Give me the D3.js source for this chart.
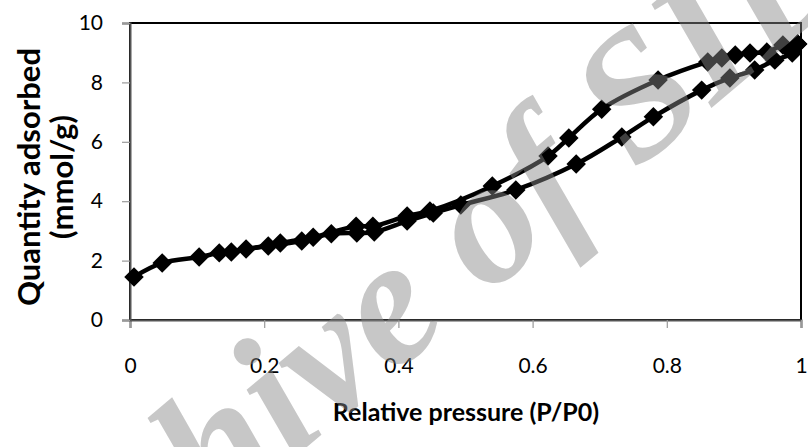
<!DOCTYPE html>
<html>
<head>
<meta charset="utf-8">
<script src="https://cdn.jsdelivr.net/npm/d3@7"></script>
<style>
  body { margin: 0; background: #fff; }
  svg { display: block; font-family: Lato, "Open Sans", sans-serif; }
</style>
</head>
<body>
<svg id="chart" width="808" height="447"></svg>
<script>
// adsorption branch (lower at high P/P0)
const adsP = [0.006, 0.048, 0.103, 0.133, 0.173, 0.206, 0.256, 0.300, 0.338, 0.364, 0.413, 0.452, 0.493, 0.575, 0.665, 0.733, 0.780, 0.852, 0.894, 0.931, 0.961, 0.987, 0.995];
const adsQ = [1.45, 1.92, 2.12, 2.26, 2.39, 2.49, 2.66, 2.90, 2.93, 2.96, 3.33, 3.60, 3.87, 4.38, 5.25, 6.16, 6.84, 7.74, 8.15, 8.42, 8.75, 8.99, 9.29];

// desorption branch (upper)
const desP = [0.995, 0.973, 0.949, 0.924, 0.902, 0.882, 0.861, 0.787, 0.703, 0.654, 0.623, 0.540, 0.447, 0.413, 0.362, 0.337, 0.273, 0.224, 0.151];
const desQ = [9.29, 9.26, 9.02, 8.99, 8.92, 8.82, 8.69, 8.08, 7.10, 6.13, 5.52, 4.51, 3.67, 3.50, 3.16, 3.16, 2.79, 2.59, 2.29];

const xTicks = [0, 0.2, 0.4, 0.6, 0.8, 1];
const yTicks = [0, 2, 4, 6, 8, 10];

const width = 808;
const height = 447;
const margin = {top: 23, right: 7, bottom: 127, left: 130};

const svg = d3.select("#chart");

const x = d3.scaleLinear()
  .domain([0, 1])
  .range([margin.left, width - margin.right]);

const y = d3.scaleLinear()
  .domain([0, 10])
  .range([height - margin.bottom, margin.top]);

// plot area border
svg.append("rect")
  .attr("x", x(0))
  .attr("y", y(10))
  .attr("width", x(1) - x(0))
  .attr("height", y(0) - y(10))
  .attr("fill", "none")
  .attr("stroke", "#000")
  .attr("stroke-width", 2);

const xAxis = svg.append("g")
  .attr("transform", `translate(0, ${y(0)})`)
  .call(d3.axisBottom(x).tickValues(xTicks).tickSize(8).tickPadding(30).tickFormat(d3.format("")));

const yAxis = svg.append("g")
  .attr("transform", `translate(${x(0)}, 0)`)
  .call(d3.axisLeft(y).tickValues(yTicks).tickSize(8).tickPadding(19));

[xAxis, yAxis].forEach(g => {
  g.select(".domain").attr("stroke", "#555").attr("stroke-width", 2);
  g.selectAll(".tick line").attr("stroke", "#999").attr("stroke-width", 1.2);
  g.selectAll(".tick text")
    .attr("fill", "#000")
    .attr("font-size", 21)
    .attr("font-family", "Lato, sans-serif");
});

// series
const series = [
  adsP.map((p, i) => ({p, q: adsQ[i]})),
  desP.map((p, i) => ({p, q: desQ[i]}))
];

const line = d3.line()
  .x(d => x(d.p))
  .y(d => y(d.q))
  .curve(d3.curveCatmullRom.alpha(0.5));

svg.selectAll("path.series")
  .data(series)
  .join("path")
  .attr("class", "series")
  .attr("fill", "none")
  .attr("stroke", "#000")
  .attr("stroke-width", 4.5)
  .attr("d", line);

const diamond = d3.symbol().type(d3.symbolSquare).size(190);

svg.selectAll("g.marks")
  .data(series)
  .join("g")
  .attr("class", "marks")
  .selectAll("path")
  .data(d => d)
  .join("path")
  .attr("d", diamond)
  .attr("fill", "#000")
  .attr("transform", d => `translate(${x(d.p)}, ${y(d.q)}) rotate(45)`);

// axis titles
svg.append("text")
  .attr("x", 466)
  .attr("y", 421)
  .attr("text-anchor", "middle")
  .attr("font-size", 25)
  .attr("font-weight", "bold")
  .text("Relative pressure (P/P0)");

const yTitle = svg.append("text")
  .attr("transform", `translate(0, 177) rotate(-90)`)
  .attr("text-anchor", "middle")
  .attr("font-size", 31)
  .attr("font-weight", "bold");
yTitle.append("tspan").attr("x", 0).attr("y", 40).text("Quantity adsorbed");
yTitle.append("tspan").attr("x", 0).attr("y", 73).text("(mmol/g)");

// watermark
svg.append("text")
  .attr("transform", "translate(437, 338) rotate(-40)")
  .attr("text-anchor", "middle")
  .attr("font-family", "Liberation Serif, serif")
  .attr("font-style", "italic")
  .attr("font-weight", "bold")
  .attr("font-size", 180)
  .attr("fill", "#888")
  .attr("fill-opacity", 0.47)
  .text("Archive of SID");
</script>
</body>
</html>
